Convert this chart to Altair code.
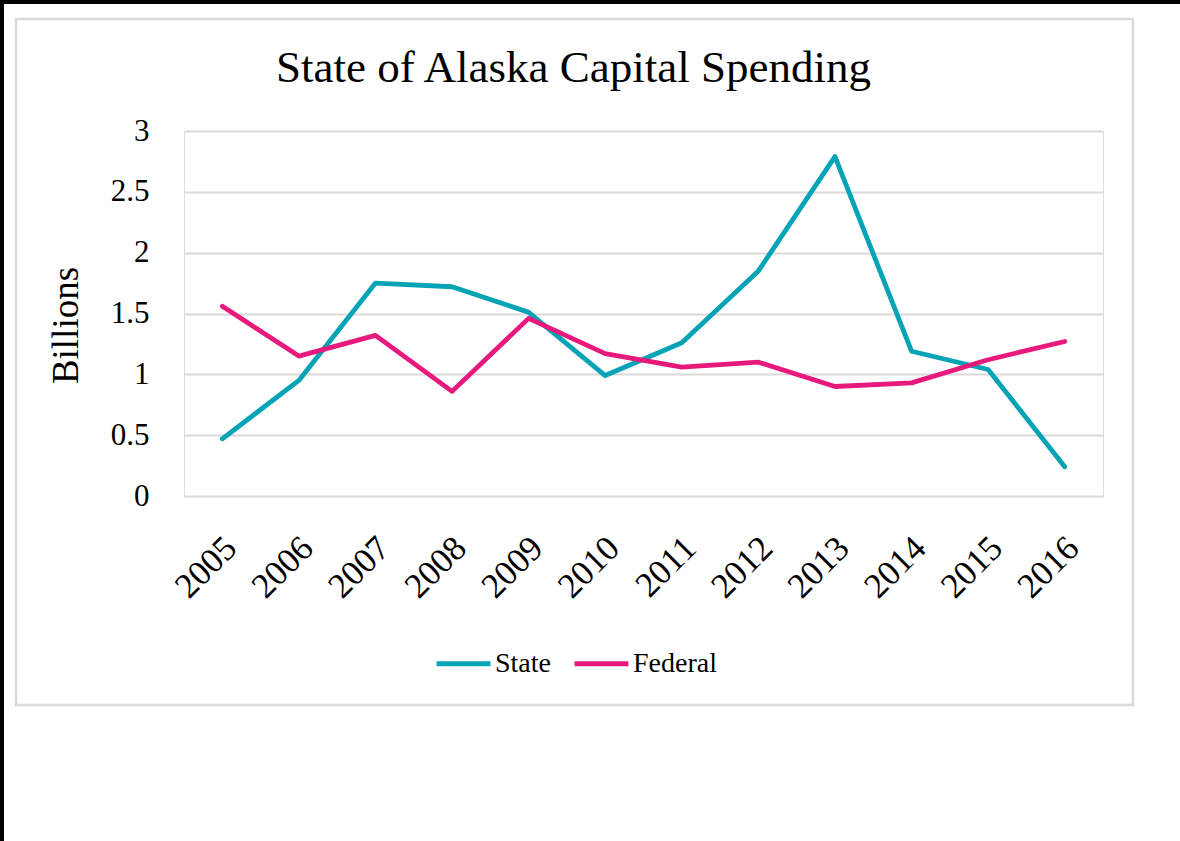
import altair as alt
import pandas as pd

years = ["2005", "2006", "2007", "2008", "2009", "2010", "2011", "2012", "2013", "2014", "2015", "2016"]
state = [0.47, 0.95, 1.75, 1.72, 1.51, 0.99, 1.26, 1.85, 2.79, 1.19, 1.04, 0.24]
federal = [1.56, 1.15, 1.32, 0.86, 1.46, 1.17, 1.06, 1.10, 0.90, 0.93, 1.12, 1.27]
series = ["State", "Federal"]
colors = ["#05A3B6", "#E8197D"]

rows = []
for s, vals in zip(series, [state, federal]):
    for y, v in zip(years, vals):
        rows.append({"Year": y, "Value": v, "Series": s})
df = pd.DataFrame(rows)

FONT = "Liberation Serif"

lines = alt.Chart(df).mark_line(strokeWidth=4.8, strokeCap="round", strokeJoin="round").encode(
    x=alt.X("Year:O", sort=years, scale=alt.Scale(type="point", padding=0.5),
            axis=alt.Axis(title=None, labelAngle=-45, labelAlign="right", labelBaseline="middle",
                          labelFontSize=35, labelPadding=46, labelOffset=8, ticks=False, domain=False,
                          labelColor="#000000", labelFont=FONT)),
    y=alt.Y("Value:Q", scale=alt.Scale(domain=[0, 3]),
            axis=alt.Axis(title="Billions", values=[0, 0.5, 1, 1.5, 2, 2.5, 3], format="~g",
                          labelFontSize=31, labelPadding=35, ticks=False, domain=False,
                          labelColor="#000000", labelFont=FONT,
                          titleFontSize=37, titleFont=FONT, titleFontWeight="normal",
                          titleColor="#000000", titleX=-99, titleY=194,
                          gridColor="#D9D9D9", gridWidth=2)),
    color=alt.Color("Series:N", sort=series, scale=alt.Scale(domain=series, range=colors),
                    legend=alt.Legend(title=None, orient="none", legendX=250, legendY=503,
                                      direction="horizontal", symbolType="stroke",
                                      symbolSize=2900, symbolStrokeWidth=5,
                                      labelFontSize=28, labelFont=FONT, labelColor="#000000",
                                      columnPadding=13, labelOffset=2)),
)

frame = alt.Chart(pd.DataFrame({"a": [0]})).mark_rect(
    fill=None, stroke="#D9D9D9", strokeWidth=2.5, clip=False
).encode(x=alt.value(-168), x2=alt.value(949), y=alt.value(-112), y2=alt.value(574))

outer = alt.Chart(pd.DataFrame({"a": [0]})).mark_rule(
    stroke="#000000", strokeWidth=4, clip=False
).encode(x=alt.value(-182), x2=alt.value(996), y=alt.value(-129))

outer_left = alt.Chart(pd.DataFrame({"a": [0]})).mark_rule(
    stroke="#000000", strokeWidth=4, clip=False
).encode(x=alt.value(-182), y=alt.value(-131), y2=alt.value(712))

chart = alt.layer(frame, outer, outer_left, lines).properties(
    width=919, height=365,
    title=alt.TitleParams("State of Alaska Capital Spending", fontSize=45, font=FONT,
                          fontWeight="normal", color="#000000", anchor="middle",
                          frame="group", dx=-70, offset=-93),
    padding={"left": 184, "top": 131, "right": 77, "bottom": 345},
    autosize=alt.AutoSizeParams(type="none"),
).configure_view(stroke=None).configure(background="#FFFFFF")

chart.save("out.html", embed_options={"renderer": "svg", "actions": False})
